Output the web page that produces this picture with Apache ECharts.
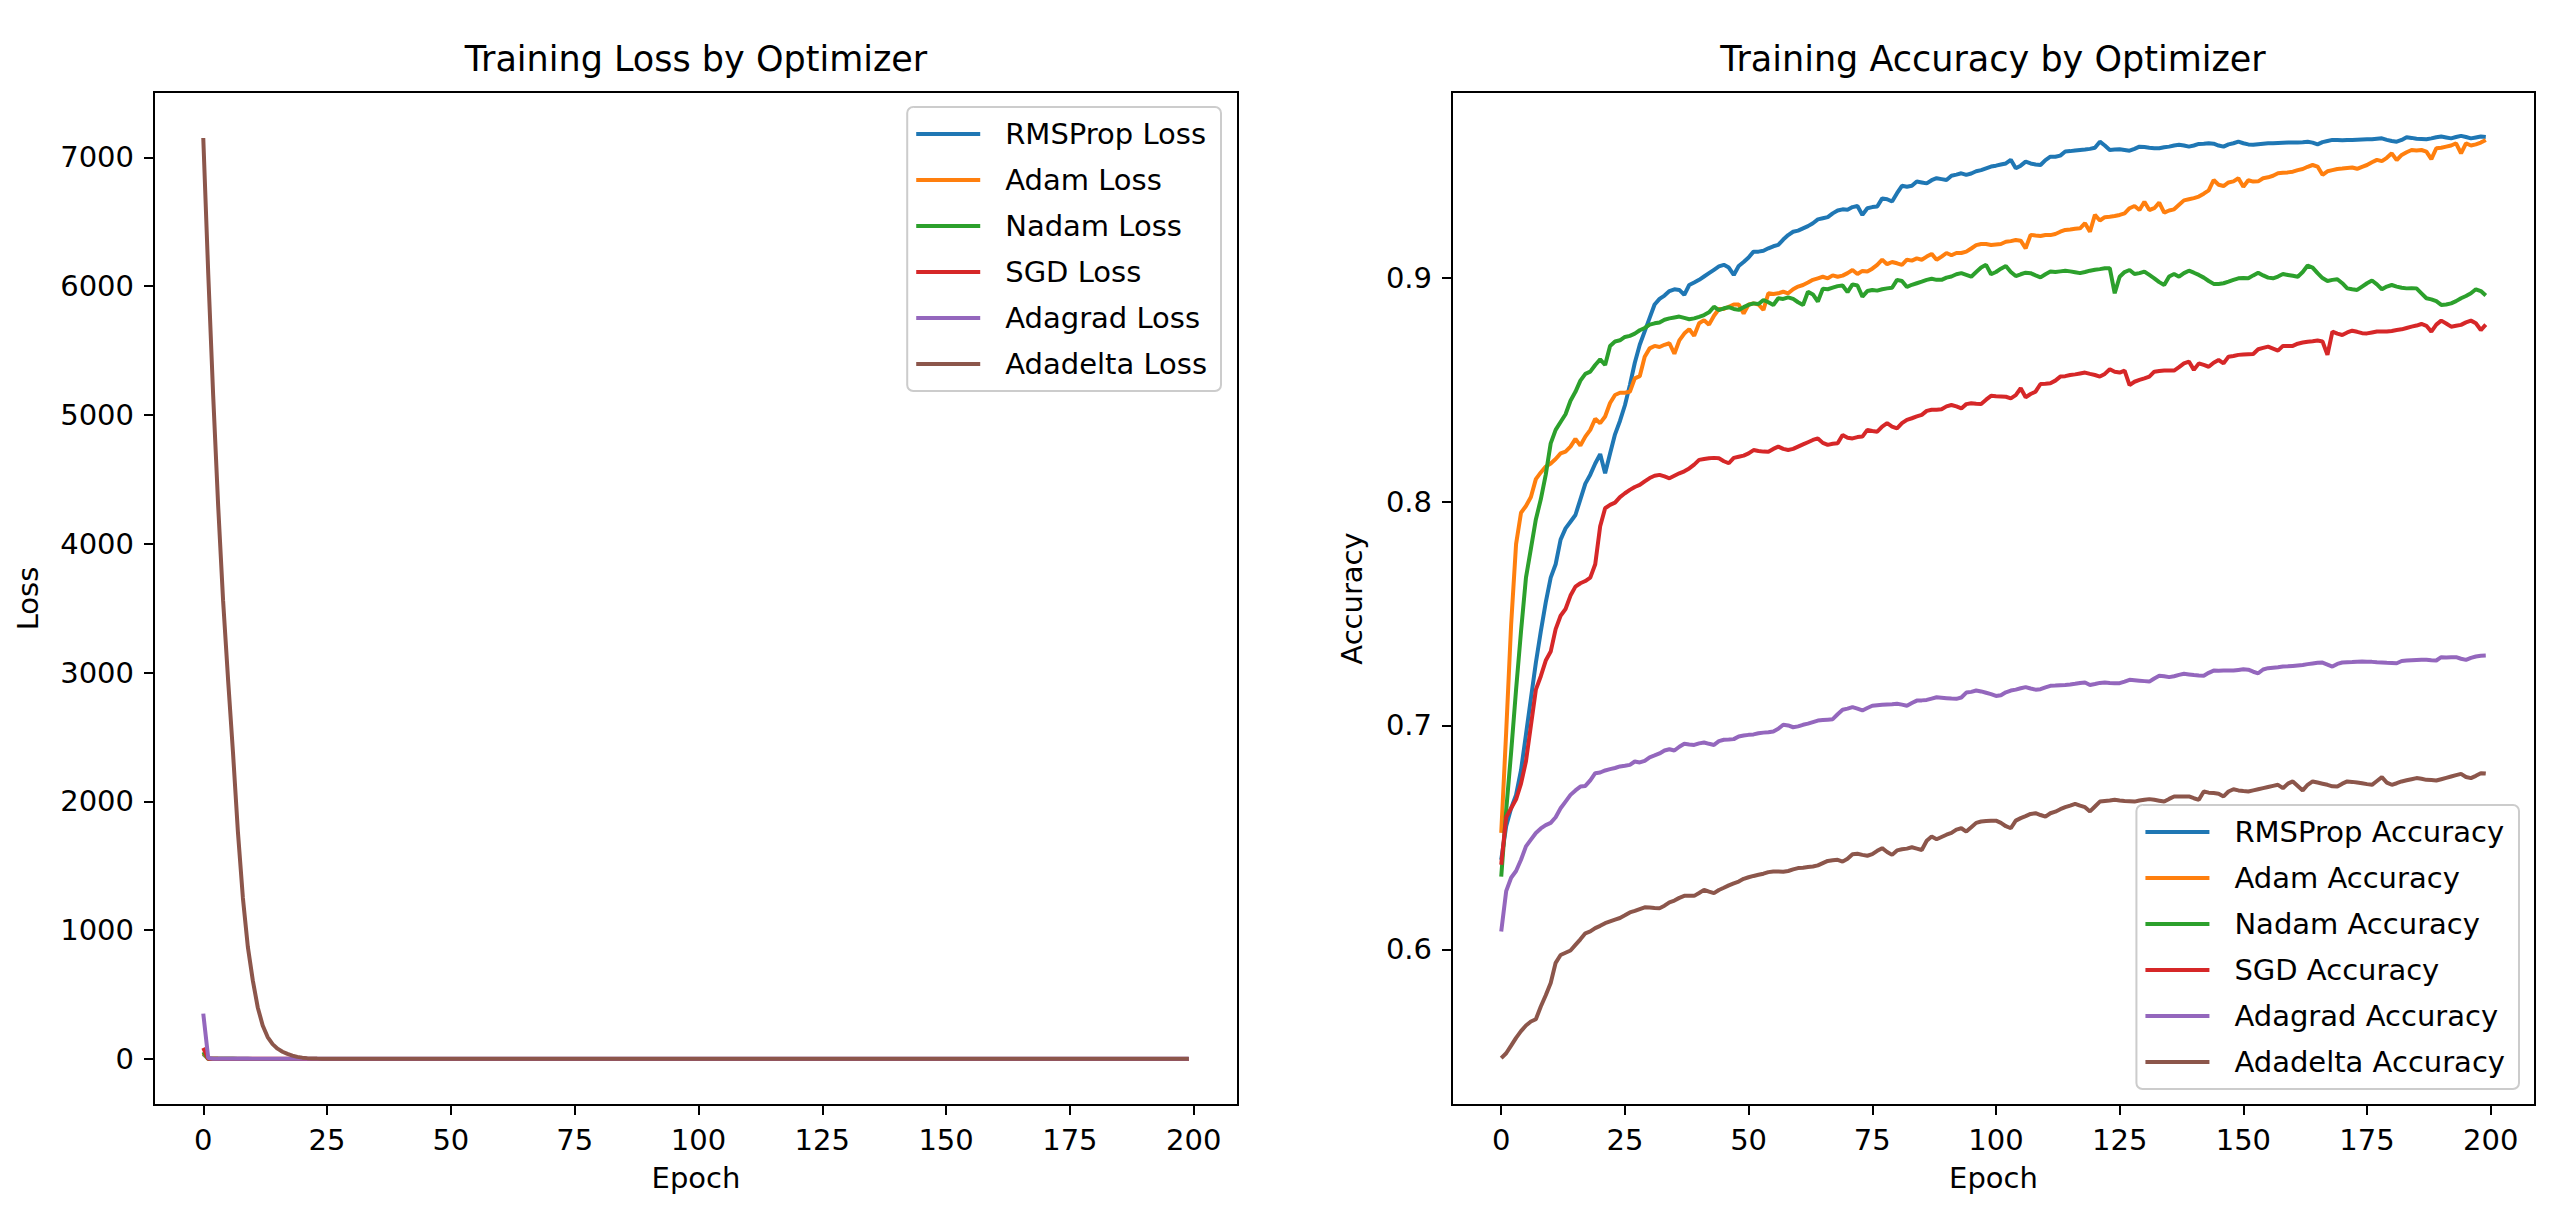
<!DOCTYPE html>
<html>
<head>
<meta charset="utf-8">
<script src="https://cdn.jsdelivr.net/npm/echarts@6/dist/echarts.min.js"></script>
<style>html,body{margin:0;padding:0;background:#fff}#chart{width:2575px;height:1228px}</style>
</head>
<body>
<div id="chart"></div>
<script>
const epochs = Array.from({length: 200}, (_, i) => i);
const lossNames = ['RMSProp Loss','Adam Loss','Nadam Loss','SGD Loss','Adagrad Loss','Adadelta Loss'];
const accNames = ['RMSProp Accuracy','Adam Accuracy','Nadam Accuracy','SGD Accuracy','Adagrad Accuracy','Adadelta Accuracy'];
const xTicks = [0,25,50,75,100,125,150,175,200];
const lossTicks = [0,1000,2000,3000,4000,5000,6000,7000];
const accTicks = [0.6,0.7,0.8,0.9];

const rmspropLoss = [38.5,0.92,0.86,0.83,0.80,0.76,0.72,0.69,0.66,0.63,
0.61,0.59,0.57,0.56,0.55,0.54,0.52,0.51,0.50,0.49,
0.48,0.50,0.47,0.45,0.43,0.42,0.40,0.38,0.36,0.35,
0.34,0.33,0.32,0.32,0.31,0.31,0.31,0.32,0.30,0.30,
0.30,0.29,0.29,0.28,0.28,0.28,0.28,0.29,0.28,0.27,
0.27,0.26,0.26,0.26,0.25,0.25,0.25,0.24,0.24,0.23,
0.23,0.23,0.22,0.22,0.21,0.21,0.21,0.20,0.20,0.20,
0.20,0.19,0.19,0.20,0.19,0.19,0.19,0.18,0.18,0.18,
0.17,0.17,0.17,0.17,0.16,0.16,0.16,0.16,0.16,0.16,
0.16,0.15,0.15,0.15,0.15,0.15,0.15,0.15,0.14,0.14,
0.14,0.14,0.14,0.13,0.14,0.14,0.13,0.13,0.14,0.14,
0.13,0.13,0.13,0.13,0.12,0.12,0.12,0.12,0.12,0.12,
0.12,0.11,0.12,0.12,0.12,0.12,0.12,0.12,0.12,0.12,
0.12,0.12,0.12,0.12,0.12,0.12,0.11,0.11,0.11,0.12,
0.11,0.11,0.11,0.11,0.11,0.11,0.12,0.11,0.11,0.11,
0.11,0.11,0.11,0.11,0.11,0.11,0.11,0.11,0.11,0.11,
0.11,0.11,0.11,0.11,0.11,0.11,0.11,0.11,0.10,0.10,
0.10,0.10,0.10,0.10,0.10,0.10,0.10,0.10,0.10,0.10,
0.10,0.11,0.10,0.10,0.10,0.10,0.10,0.10,0.10,0.10,
0.10,0.10,0.10,0.10,0.10,0.10,0.10,0.10,0.10,0.10];
const adamLoss = [45.2,0.85,0.74,0.66,0.61,0.59,0.58,0.56,0.55,0.54,
0.53,0.53,0.52,0.52,0.51,0.50,0.51,0.50,0.49,0.48,
0.48,0.47,0.46,0.45,0.45,0.45,0.44,0.43,0.43,0.41,
0.40,0.40,0.40,0.39,0.39,0.40,0.39,0.38,0.38,0.38,
0.37,0.37,0.37,0.36,0.35,0.35,0.35,0.35,0.35,0.36,
0.35,0.35,0.35,0.35,0.34,0.34,0.34,0.34,0.34,0.33,
0.33,0.33,0.32,0.32,0.32,0.32,0.32,0.31,0.32,0.31,
0.31,0.31,0.31,0.31,0.31,0.30,0.30,0.29,0.30,0.29,
0.29,0.30,0.29,0.29,0.29,0.29,0.29,0.28,0.29,0.29,
0.28,0.28,0.28,0.28,0.28,0.28,0.27,0.27,0.27,0.27,
0.27,0.27,0.27,0.27,0.26,0.27,0.27,0.26,0.26,0.26,
0.26,0.26,0.26,0.26,0.25,0.25,0.25,0.25,0.25,0.25,
0.24,0.25,0.24,0.24,0.24,0.24,0.24,0.23,0.23,0.23,
0.23,0.23,0.23,0.23,0.23,0.23,0.23,0.22,0.22,0.22,
0.22,0.22,0.21,0.21,0.20,0.20,0.21,0.20,0.20,0.20,
0.20,0.20,0.20,0.20,0.19,0.19,0.19,0.19,0.19,0.19,
0.19,0.19,0.19,0.18,0.18,0.18,0.19,0.18,0.18,0.18,
0.18,0.18,0.18,0.18,0.18,0.17,0.17,0.17,0.17,0.17,
0.16,0.17,0.16,0.16,0.16,0.16,0.16,0.16,0.17,0.16,
0.16,0.15,0.15,0.15,0.16,0.15,0.15,0.15,0.15,0.15];
const nadamLoss = [55.6,0.98,0.86,0.78,0.71,0.66,0.62,0.59,0.56,0.54,
0.51,0.49,0.47,0.46,0.45,0.44,0.43,0.42,0.41,0.41,
0.40,0.41,0.39,0.38,0.38,0.37,0.37,0.37,0.36,0.36,
0.36,0.35,0.35,0.35,0.35,0.35,0.35,0.35,0.35,0.35,
0.35,0.34,0.34,0.34,0.34,0.34,0.34,0.34,0.34,0.34,
0.34,0.33,0.33,0.33,0.33,0.33,0.33,0.33,0.33,0.33,
0.33,0.33,0.32,0.32,0.33,0.32,0.32,0.32,0.32,0.32,
0.32,0.32,0.32,0.33,0.32,0.32,0.32,0.32,0.32,0.32,
0.31,0.31,0.32,0.32,0.31,0.31,0.31,0.31,0.31,0.31,
0.31,0.31,0.31,0.31,0.31,0.31,0.31,0.30,0.30,0.31,
0.31,0.31,0.30,0.31,0.31,0.31,0.31,0.31,0.31,0.31,
0.31,0.30,0.31,0.30,0.30,0.31,0.31,0.31,0.31,0.30,
0.30,0.30,0.30,0.30,0.33,0.31,0.30,0.30,0.31,0.31,
0.30,0.31,0.31,0.31,0.32,0.31,0.31,0.31,0.31,0.30,
0.31,0.31,0.31,0.31,0.32,0.32,0.32,0.31,0.31,0.31,
0.31,0.31,0.31,0.31,0.31,0.31,0.31,0.31,0.31,0.31,
0.31,0.31,0.31,0.30,0.30,0.31,0.31,0.31,0.31,0.31,
0.32,0.32,0.32,0.32,0.32,0.31,0.31,0.32,0.32,0.32,
0.32,0.32,0.32,0.32,0.32,0.32,0.33,0.33,0.33,0.33,
0.34,0.34,0.33,0.33,0.33,0.33,0.33,0.32,0.33,0.33];
const sgdLoss = [86.3,1.02,0.97,0.94,0.91,0.88,0.84,0.80,0.78,0.76,
0.75,0.72,0.70,0.69,0.67,0.66,0.65,0.65,0.64,0.62,
0.58,0.56,0.55,0.55,0.54,0.54,0.53,0.53,0.53,0.52,
0.52,0.52,0.51,0.52,0.52,0.51,0.51,0.51,0.50,0.50,
0.50,0.50,0.49,0.49,0.49,0.50,0.50,0.49,0.49,0.49,
0.49,0.48,0.48,0.48,0.48,0.48,0.48,0.48,0.48,0.48,
0.47,0.47,0.47,0.47,0.47,0.47,0.47,0.47,0.47,0.46,
0.46,0.46,0.46,0.46,0.46,0.46,0.46,0.45,0.45,0.45,
0.45,0.45,0.45,0.45,0.44,0.44,0.44,0.44,0.44,0.44,
0.44,0.43,0.43,0.44,0.43,0.43,0.43,0.43,0.43,0.42,
0.42,0.42,0.42,0.42,0.42,0.41,0.42,0.42,0.41,0.41,
0.41,0.41,0.41,0.41,0.40,0.40,0.40,0.40,0.40,0.40,
0.40,0.40,0.40,0.40,0.40,0.40,0.40,0.41,0.40,0.40,
0.40,0.40,0.39,0.39,0.39,0.39,0.39,0.39,0.39,0.38,
0.39,0.39,0.39,0.39,0.38,0.38,0.38,0.38,0.38,0.38,
0.38,0.38,0.38,0.37,0.37,0.37,0.37,0.37,0.37,0.37,
0.37,0.37,0.37,0.37,0.37,0.37,0.37,0.38,0.36,0.36,
0.36,0.36,0.36,0.36,0.36,0.36,0.36,0.36,0.36,0.36,
0.36,0.36,0.36,0.36,0.36,0.35,0.35,0.35,0.36,0.35,
0.35,0.35,0.35,0.35,0.35,0.35,0.35,0.35,0.35,0.35];
const adagradLoss = [352.0,6.85,1.05,1.01,0.99,0.97,0.96,0.95,0.94,0.93,
0.93,0.92,0.91,0.90,0.90,0.89,0.89,0.88,0.88,0.87,
0.87,0.87,0.86,0.86,0.86,0.86,0.86,0.85,0.85,0.85,
0.85,0.84,0.84,0.84,0.84,0.84,0.83,0.83,0.83,0.83,
0.83,0.83,0.83,0.83,0.82,0.82,0.82,0.82,0.82,0.82,
0.82,0.81,0.81,0.81,0.81,0.81,0.81,0.80,0.80,0.80,
0.80,0.80,0.80,0.80,0.80,0.79,0.79,0.79,0.79,0.79,
0.79,0.78,0.78,0.78,0.78,0.78,0.78,0.78,0.78,0.78,
0.78,0.78,0.78,0.77,0.77,0.77,0.77,0.77,0.77,0.77,
0.77,0.77,0.77,0.77,0.77,0.76,0.76,0.76,0.76,0.76,
0.76,0.76,0.76,0.76,0.76,0.76,0.76,0.76,0.76,0.76,
0.76,0.75,0.75,0.75,0.75,0.75,0.75,0.75,0.75,0.75,
0.75,0.75,0.75,0.75,0.75,0.75,0.75,0.74,0.74,0.74,
0.74,0.74,0.74,0.74,0.74,0.74,0.74,0.74,0.74,0.74,
0.74,0.74,0.74,0.74,0.73,0.73,0.73,0.73,0.73,0.73,
0.73,0.73,0.73,0.73,0.73,0.73,0.73,0.73,0.73,0.73,
0.73,0.73,0.73,0.73,0.73,0.72,0.72,0.72,0.72,0.72,
0.72,0.72,0.72,0.72,0.72,0.72,0.72,0.72,0.72,0.72,
0.72,0.72,0.72,0.72,0.72,0.72,0.72,0.72,0.72,0.72,
0.72,0.71,0.71,0.71,0.71,0.71,0.71,0.71,0.71,0.71];
const adadeltaLoss = [7150,6100,5150,4300,3560,2950,2380,1760,1250,870,
610,400,260,170,115,80,56,39,26,16,
10.2,6.4,4.1,2.9,2.2,1.8,1.6,1.5,1.42,1.37,
1.33,1.30,1.28,1.26,1.25,1.24,1.23,1.22,1.21,1.20,
1.19,1.19,1.18,1.18,1.17,1.17,1.16,1.16,1.15,1.15,
1.14,1.14,1.14,1.13,1.13,1.13,1.12,1.12,1.12,1.11,
1.11,1.11,1.11,1.10,1.10,1.10,1.09,1.09,1.09,1.09,
1.08,1.08,1.08,1.08,1.07,1.07,1.07,1.07,1.07,1.06,
1.06,1.06,1.06,1.06,1.05,1.05,1.05,1.05,1.05,1.04,
1.04,1.04,1.04,1.04,1.04,1.03,1.03,1.03,1.03,1.03,
1.03,1.02,1.02,1.02,1.02,1.02,1.02,1.01,1.01,1.01,
1.01,1.01,1.01,1.01,1.00,1.00,1.00,1.00,1.00,1.00,
1.00,0.99,0.99,0.99,0.99,0.99,0.99,0.99,0.99,0.98,
0.98,0.98,0.98,0.98,0.98,0.98,0.98,0.98,0.97,0.97,
0.97,0.97,0.97,0.97,0.97,0.97,0.97,0.97,0.96,0.96,
0.96,0.96,0.96,0.96,0.96,0.96,0.96,0.96,0.96,0.95,
0.95,0.95,0.95,0.95,0.95,0.95,0.95,0.95,0.95,0.95,
0.95,0.94,0.94,0.94,0.94,0.94,0.94,0.94,0.94,0.94,
0.94,0.94,0.94,0.93,0.93,0.93,0.93,0.93,0.93,0.93,
0.93,0.93,0.93,0.93,0.93,0.93,0.93,0.92,0.92,0.92];

const rmspropAcc = [0.640,0.655,0.663,0.669,0.680,0.696,0.712,0.728,0.742,0.755,
0.766,0.772,0.783,0.788,0.791,0.794,0.801,0.808,0.812,0.817,
0.8212,0.8126,0.8215,0.830,0.836,0.843,0.852,0.862,0.870,0.876,
0.882,0.888,0.8905,0.892,0.894,0.8948,0.8945,0.8923,0.8967,0.8978,
0.899,0.9005,0.902,0.9035,0.905,0.9057,0.9045,0.9012,0.9052,0.907,
0.909,0.9116,0.9116,0.912,0.9131,0.914,0.9146,0.917,0.919,0.9205,
0.921,0.922,0.923,0.9243,0.926,0.9265,0.927,0.9287,0.930,0.9305,
0.9303,0.9315,0.932,0.928,0.931,0.9315,0.9318,0.9354,0.935,0.934,
0.9377,0.941,0.9406,0.941,0.9429,0.9425,0.9421,0.9435,0.9444,0.944,
0.9436,0.9455,0.946,0.9466,0.9459,0.9465,0.9475,0.948,0.9488,0.9496,
0.950,0.9505,0.951,0.9526,0.9488,0.950,0.9518,0.951,0.9505,0.9503,
0.9525,0.954,0.954,0.9545,0.9563,0.9565,0.9568,0.957,0.9572,0.9575,
0.958,0.9607,0.959,0.957,0.9572,0.9573,0.957,0.9567,0.9575,0.9585,
0.9583,0.958,0.9578,0.9578,0.9582,0.9585,0.959,0.9593,0.959,0.9585,
0.959,0.9597,0.9598,0.960,0.9598,0.959,0.9585,0.9595,0.960,0.9607,
0.960,0.9595,0.9593,0.9596,0.9598,0.960,0.960,0.9601,0.9602,0.9603,
0.9603,0.9604,0.9605,0.9607,0.9603,0.9595,0.9605,0.961,0.9615,0.9615,
0.9614,0.9615,0.9615,0.9616,0.9617,0.9618,0.9618,0.962,0.9622,0.9615,
0.961,0.9607,0.9615,0.9627,0.9624,0.962,0.9619,0.9618,0.9622,0.9627,
0.963,0.9626,0.9622,0.9628,0.9633,0.9628,0.9622,0.9626,0.963,0.9628];
const adamAcc = [0.652,0.697,0.745,0.781,0.795,0.798,0.802,0.810,0.813,0.8156,
0.817,0.819,0.8215,0.8223,0.8245,0.828,0.825,0.829,0.832,0.837,
0.835,0.838,0.844,0.8476,0.8486,0.8486,0.849,0.855,0.856,0.8647,
0.8684,0.8695,0.869,0.870,0.8707,0.866,0.872,0.875,0.877,0.874,
0.8796,0.881,0.879,0.883,0.886,0.886,0.887,0.888,0.888,0.884,
0.888,0.8885,0.888,0.8856,0.893,0.8927,0.893,0.8937,0.893,0.8948,
0.896,0.8967,0.8978,0.899,0.8997,0.9004,0.8997,0.901,0.9004,0.9009,
0.902,0.9034,0.9016,0.903,0.9027,0.904,0.9057,0.908,0.906,0.907,
0.9064,0.9057,0.908,0.9076,0.9086,0.908,0.9094,0.9106,0.908,0.9094,
0.911,0.910,0.911,0.911,0.9116,0.913,0.9145,0.915,0.915,0.9146,
0.9148,0.915,0.916,0.9163,0.9168,0.9165,0.9131,0.9191,0.9188,0.9186,
0.919,0.919,0.9195,0.9205,0.9213,0.9215,0.9218,0.922,0.9243,0.9205,
0.928,0.9255,0.927,0.9272,0.9275,0.928,0.9287,0.931,0.932,0.9302,
0.9339,0.9302,0.931,0.9335,0.929,0.930,0.9305,0.9325,0.9345,0.935,
0.9355,0.9362,0.9375,0.939,0.9436,0.9415,0.9409,0.9425,0.943,0.9444,
0.9406,0.9435,0.9429,0.943,0.9444,0.9448,0.9455,0.9466,0.9468,0.947,
0.9473,0.948,0.9485,0.9495,0.9503,0.9496,0.9459,0.9475,0.948,0.9485,
0.9487,0.949,0.9492,0.9486,0.9495,0.9503,0.9515,0.9526,0.952,0.9535,
0.9555,0.9525,0.9548,0.956,0.957,0.9568,0.957,0.9563,0.9529,0.9578,
0.958,0.9585,0.959,0.960,0.9555,0.960,0.959,0.9595,0.9603,0.9615];
const nadamAcc = [0.6325,0.662,0.688,0.716,0.742,0.766,0.779,0.792,0.801,0.812,
0.826,0.832,0.8355,0.839,0.845,0.849,0.854,0.857,0.858,0.861,
0.8635,0.861,0.8695,0.8715,0.872,0.8735,0.874,0.875,0.8765,0.8775,
0.879,0.8796,0.880,0.8812,0.8818,0.8822,0.8826,0.882,0.8814,0.8818,
0.8825,0.8833,0.8845,0.887,0.8855,0.8863,0.8868,0.886,0.8856,0.8868,
0.8878,0.8885,0.8882,0.890,0.889,0.8878,0.8908,0.8905,0.8912,0.8905,
0.889,0.8878,0.8937,0.8925,0.8893,0.895,0.8948,0.8955,0.8962,0.8965,
0.8935,0.897,0.8965,0.8915,0.894,0.8945,0.8942,0.8948,0.8952,0.8955,
0.899,0.8985,0.8958,0.8968,0.8975,0.8982,0.899,0.8995,0.899,0.899,
0.900,0.9005,0.9015,0.902,0.9012,0.9004,0.9025,0.9045,0.9057,0.9015,
0.9025,0.904,0.9052,0.9025,0.9007,0.9015,0.9022,0.902,0.901,0.9001,
0.9015,0.9027,0.9025,0.9028,0.9031,0.9028,0.9024,0.902,0.9025,0.9031,
0.9035,0.9038,0.9042,0.9042,0.893,0.9004,0.9025,0.9034,0.9016,0.902,
0.9027,0.9012,0.8997,0.898,0.8967,0.9005,0.9016,0.9004,0.902,0.9031,
0.9022,0.9012,0.900,0.8985,0.8972,0.8972,0.8975,0.8982,0.899,0.8997,
0.8998,0.8997,0.901,0.9022,0.901,0.900,0.8997,0.9005,0.9016,0.9012,
0.9008,0.9004,0.9025,0.9054,0.9045,0.902,0.8998,0.8985,0.899,0.8993,
0.8975,0.8952,0.8948,0.8945,0.896,0.8975,0.8987,0.897,0.8948,0.896,
0.8967,0.896,0.8955,0.8952,0.8953,0.8952,0.893,0.8908,0.8903,0.8895,
0.8878,0.888,0.8885,0.8895,0.8908,0.8918,0.893,0.8948,0.894,0.892];
const sgdAcc = [0.6378,0.659,0.663,0.667,0.674,0.684,0.700,0.716,0.722,0.729,
0.733,0.743,0.749,0.752,0.758,0.762,0.7635,0.7645,0.766,0.772,
0.789,0.797,0.7985,0.7995,0.802,0.8037,0.8052,0.8065,0.8074,0.809,
0.8105,0.8115,0.8119,0.8112,0.8104,0.8115,0.8126,0.8135,0.8148,0.8165,
0.8186,0.819,0.8193,0.8195,0.8193,0.818,0.8171,0.8195,0.820,0.8205,
0.8215,0.823,0.8226,0.8223,0.8222,0.8235,0.8245,0.8235,0.823,0.8235,
0.8245,0.8255,0.8265,0.8275,0.8282,0.8262,0.8253,0.8258,0.826,0.8297,
0.8285,0.8282,0.8288,0.829,0.832,0.8315,0.8312,0.8335,0.835,0.8335,
0.8327,0.835,0.8365,0.8372,0.838,0.8387,0.8405,0.841,0.841,0.8412,
0.8425,0.8431,0.8425,0.8416,0.8435,0.8439,0.8437,0.8436,0.8455,0.8472,
0.847,0.8469,0.8468,0.8461,0.8475,0.8506,0.8466,0.848,0.8491,0.8525,
0.8526,0.8528,0.854,0.8558,0.856,0.8565,0.8568,0.8572,0.8576,0.857,
0.8565,0.8558,0.857,0.8591,0.858,0.8576,0.8585,0.852,0.8535,0.8543,
0.855,0.8558,0.858,0.8583,0.8585,0.8585,0.8585,0.860,0.8617,0.8625,
0.8588,0.8617,0.861,0.8602,0.862,0.8632,0.8617,0.8647,0.865,0.8655,
0.8657,0.8658,0.8659,0.868,0.8686,0.8692,0.8683,0.8674,0.8695,0.8695,
0.8695,0.8705,0.871,0.8714,0.8716,0.8719,0.8715,0.8655,0.8759,0.875,
0.8744,0.8755,0.8763,0.8758,0.8752,0.8751,0.8755,0.8759,0.8759,0.8759,
0.8762,0.8766,0.8769,0.8775,0.8781,0.8786,0.8793,0.8785,0.8759,0.879,
0.8808,0.8795,0.8781,0.8785,0.8789,0.880,0.8808,0.8796,0.8766,0.879];
const adagradAcc = [0.608,0.626,0.632,0.635,0.640,0.646,0.649,0.652,0.654,0.6555,
0.6565,0.659,0.663,0.666,0.669,0.671,0.6727,0.673,0.6755,0.6787,
0.679,0.6799,0.6805,0.681,0.6817,0.682,0.6824,0.6839,0.6835,0.6842,
0.6858,0.6866,0.6875,0.6888,0.6894,0.6888,0.6905,0.6918,0.6915,0.6913,
0.692,0.6924,0.6918,0.6913,0.693,0.6936,0.6937,0.6939,0.6951,0.6955,
0.6958,0.696,0.6965,0.6968,0.697,0.6973,0.6985,0.7003,0.700,0.6992,
0.6996,0.7003,0.7008,0.7015,0.7022,0.7024,0.7026,0.7028,0.705,0.707,
0.7075,0.7082,0.7075,0.7067,0.7078,0.7088,0.709,0.7092,0.7094,0.7095,
0.7097,0.7093,0.7088,0.710,0.7111,0.7112,0.7114,0.712,0.7126,0.7124,
0.7122,0.712,0.7119,0.7125,0.7147,0.715,0.7156,0.7152,0.7146,0.714,
0.7132,0.7135,0.7148,0.7156,0.716,0.7166,0.7171,0.7165,0.716,0.7162,
0.717,0.7177,0.7178,0.718,0.7181,0.7183,0.7186,0.719,0.7192,0.7181,
0.7185,0.719,0.7192,0.719,0.7189,0.7189,0.7196,0.7204,0.7202,0.720,
0.7198,0.7196,0.721,0.7222,0.722,0.7216,0.722,0.7226,0.7231,0.7228,
0.7225,0.7223,0.7222,0.7235,0.7245,0.7244,0.7245,0.7246,0.7245,0.7248,
0.7251,0.7249,0.724,0.7233,0.725,0.7256,0.7258,0.726,0.7263,0.7264,
0.7266,0.7268,0.727,0.7274,0.7277,0.728,0.7281,0.7272,0.7263,0.7275,
0.7281,0.7282,0.7283,0.7285,0.7286,0.7285,0.7284,0.7282,0.7281,0.728,
0.7279,0.7278,0.7288,0.729,0.7291,0.7292,0.7293,0.7293,0.7291,0.729,
0.7305,0.7304,0.7305,0.7305,0.7298,0.7293,0.7302,0.7308,0.7311,0.7312];
const adadeltaAcc = [0.5514,0.5536,0.557,0.5605,0.5635,0.566,0.5678,0.5688,0.5745,0.5795,
0.585,0.594,0.5975,0.5985,0.5995,0.602,0.6045,0.6072,0.608,0.6095,
0.6105,0.6117,0.6125,0.6133,0.614,0.6152,0.6165,0.6172,0.618,0.6188,
0.6187,0.6185,0.6184,0.6195,0.621,0.6218,0.623,0.6239,0.624,0.6239,
0.6252,0.6266,0.6258,0.6251,0.6265,0.6275,0.6286,0.6295,0.6303,0.6315,
0.6322,0.6328,0.6333,0.6338,0.6345,0.6348,0.6348,0.6347,0.635,0.6357,
0.6363,0.6365,0.6368,0.637,0.6375,0.6385,0.6395,0.6398,0.640,0.6392,
0.6405,0.6425,0.6427,0.6422,0.6418,0.6425,0.644,0.6452,0.6435,0.6422,
0.6442,0.6447,0.645,0.6456,0.645,0.6444,0.6485,0.6504,0.6492,0.6502,
0.6512,0.652,0.6535,0.6541,0.6526,0.6545,0.6565,0.6571,0.6573,0.6574,
0.6575,0.6565,0.655,0.6541,0.6575,0.6586,0.6595,0.6605,0.6608,0.660,
0.6593,0.6608,0.6615,0.6626,0.6635,0.6642,0.665,0.6642,0.6635,0.6616,
0.6638,0.666,0.6663,0.6665,0.6668,0.6665,0.6663,0.6662,0.666,0.6665,
0.6668,0.6671,0.6668,0.6664,0.666,0.6672,0.6683,0.6683,0.6683,0.6683,
0.6675,0.6668,0.6705,0.670,0.6698,0.6695,0.6683,0.6705,0.6715,0.671,
0.6707,0.6705,0.671,0.6715,0.672,0.6725,0.673,0.6735,0.672,0.674,
0.675,0.673,0.671,0.6735,0.675,0.6745,0.674,0.6735,0.6728,0.6727,
0.674,0.675,0.6748,0.6745,0.6742,0.6738,0.6735,0.6752,0.6769,0.6745,
0.6735,0.6742,0.675,0.6755,0.676,0.6765,0.6762,0.6757,0.6756,0.6754,
0.676,0.6766,0.6772,0.6778,0.6784,0.677,0.6765,0.6775,0.6787,0.6785];

const colors = ['#1f77b4','#ff7f0e','#2ca02c','#d62728','#9467bd','#8c564b'];
const lossData = [rmspropLoss, adamLoss, nadamLoss, sgdLoss, adagradLoss, adadeltaLoss];
const accData = [rmspropAcc, adamAcc, nadamAcc, sgdAcc, adagradAcc, adadeltaAcc];

const FONT = 'DejaVu Sans';
const chart = echarts.init(document.getElementById('chart'), null, {renderer: 'svg', width: 2575, height: 1228});

function mkSeries(name, vals, color, idx) {
  return {
    name: name, type: 'line', xAxisIndex: idx, yAxisIndex: idx,
    data: epochs.map((e, i) => [e, vals[i]]),
    showSymbol: false, symbol: 'none', silent: true, animation: false,
    lineStyle: {width: 4, color: color}, itemStyle: {color: color}
  };
}
function xAxisCfg(idx) {
  return {
    gridIndex: idx, type: 'value', min: -9.95, max: 208.95, position: 'bottom',
    name: 'Epoch', nameLocation: 'middle', nameGap: 58,
    nameTextStyle: {fontSize: 29, color: '#000', fontFamily: FONT},
    axisLine: {show: false, onZero: false},
    axisTick: {show: true, inside: false, length: 10, lineStyle: {color: '#000', width: 2}, customValues: xTicks},
    axisLabel: {color: '#000', fontSize: 29, fontFamily: FONT, margin: 20, customValues: xTicks, formatter: v => String(v)},
    splitLine: {show: false}
  };
}
function yAxisCfg(idx, name, min, max, ticks, fmt, gap) {
  return {
    gridIndex: idx, type: 'value', min: min, max: max, position: 'left',
    name: name, nameLocation: 'middle', nameGap: gap,
    nameTextStyle: {fontSize: 29, color: '#000', fontFamily: FONT},
    axisLine: {show: false, onZero: false},
    axisTick: {show: true, inside: false, length: 10, lineStyle: {color: '#000', width: 2}, customValues: ticks},
    axisLabel: {color: '#000', fontSize: 29, fontFamily: FONT, margin: 20, customValues: ticks, formatter: fmt},
    splitLine: {show: false}
  };
}
function legendCfg(names, pos) {
  return Object.assign({
    data: names, orient: 'vertical', icon: 'rect', itemWidth: 64, itemHeight: 4, itemGap: 12,
    selectedMode: false,
    textStyle: {fontSize: 29, fontFamily: FONT, color: '#000', lineHeight: 34, padding: [0, 0, 0, 20]},
    backgroundColor: 'rgba(255,255,255,0.8)', borderColor: '#cccccc', borderWidth: 2, borderRadius: 6,
    padding: [10, 14, 10, 9]
  }, pos);
}

const option = {
  backgroundColor: '#ffffff',
  animation: false,
  title: [
    {text: 'Training Loss by Optimizer', left: 696, top: 38, textAlign: 'center', padding: 0,
     textStyle: {fontSize: 35, fontWeight: 'normal', color: '#000', fontFamily: FONT, lineHeight: 42}},
    {text: 'Training Accuracy by Optimizer', left: 1993, top: 38, textAlign: 'center', padding: 0,
     textStyle: {fontSize: 35, fontWeight: 'normal', color: '#000', fontFamily: FONT, lineHeight: 42}}
  ],
  grid: [
    {left: 154, top: 92, width: 1084, height: 1013, show: true, borderColor: '#000', borderWidth: 2, backgroundColor: 'transparent', containLabel: false, outerBoundsMode: 'none'},
    {left: 1452, top: 92, width: 1083, height: 1013, show: true, borderColor: '#000', borderWidth: 2, backgroundColor: 'transparent', containLabel: false, outerBoundsMode: 'none'}
  ],
  xAxis: [xAxisCfg(0), xAxisCfg(1)],
  yAxis: [
    yAxisCfg(0, 'Loss', -357.5, 7507.5, lossTicks, v => String(Math.round(v)), 112),
    yAxisCfg(1, 'Accuracy', 0.5305, 0.9829, accTicks, v => v.toFixed(1), 86)
  ],
  legend: [
    legendCfg(lossNames, {right: 1354, top: 107}),
    legendCfg(accNames, {right: 56, bottom: 139})
  ],
  series: lossNames.map((n, i) => mkSeries(n, lossData[i], colors[i], 0))
    .concat(accNames.map((n, i) => mkSeries(n, accData[i], colors[i], 1)))
};
chart.setOption(option);
</script>
</body>
</html>
